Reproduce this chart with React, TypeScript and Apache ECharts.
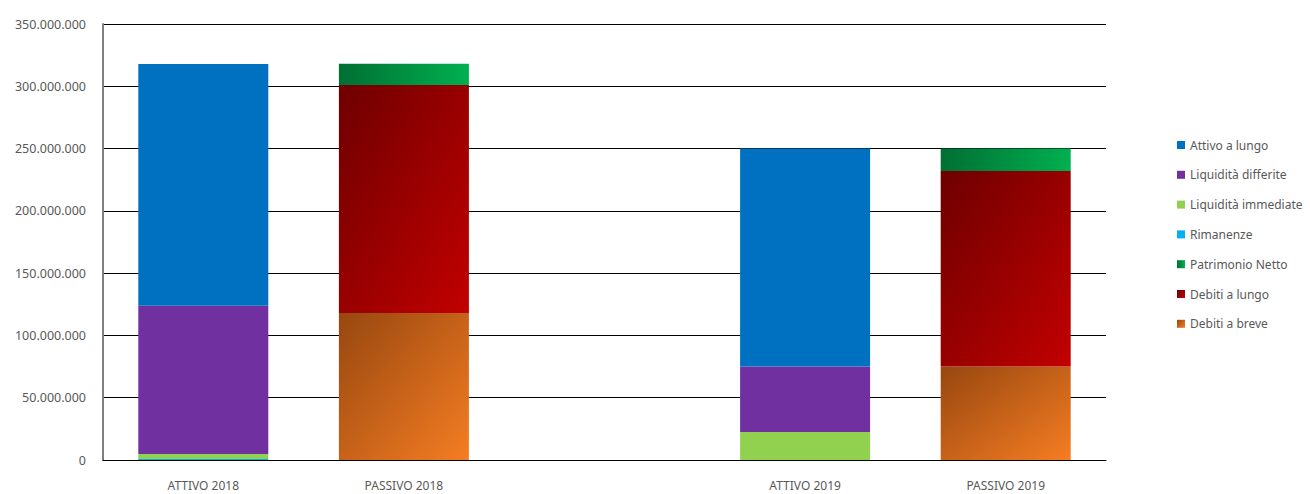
import React, { useEffect, useRef } from "react";
import * as echarts from "echarts";

const categories = ["ATTIVO 2018", "PASSIVO 2018", "", "ATTIVO 2019", "PASSIVO 2019"];
const yTicks = { min: 0, max: 350000000, interval: 50000000 };

// series values (bottom to top of the stack)
const debitiBreve = [null, 118000000, null, null, 75000000];
const debitiLungo = [null, 183000000, null, null, 157000000];
const patrimonioNetto = [null, 17000000, null, null, 18000000];
const rimanenze = [800000, null, null, 0, null];
const liquiditaImmediate = [4000000, null, null, 22500000, null];
const liquiditaDifferite = [119000000, null, null, 52500000, null];
const attivoLungo = [194000000, null, null, 175000000, null];

const legendOrder = [
  "Attivo a lungo",
  "Liquidità differite",
  "Liquidità immediate",
  "Rimanenze",
  "Patrimonio Netto",
  "Debiti a lungo",
  "Debiti a breve",
];

const grad = (a: string, b: string, x2 = 1, y2 = 1) =>
  new echarts.graphic.LinearGradient(0, 0, x2, y2, [
    { offset: 0, color: a },
    { offset: 1, color: b },
  ]);

const fmt = (v: number) => String(Math.round(v)).replace(/\B(?=(\d{3})+(?!\d))/g, ".");

export default function App() {
  const ref = useRef<HTMLDivElement>(null);
  useEffect(() => {
    if (!ref.current) return;
    const chart = echarts.init(ref.current, undefined, { renderer: "svg" });
    const mk = (name: string, data: (number | null)[], color: any) => ({
      name,
      type: "bar",
      stack: "tot",
      data,
      barWidth: 130,
      itemStyle: { color },
      emphasis: { disabled: true },
    });
    chart.setOption({
      animation: false,
      textStyle: { fontFamily: "'Noto Sans', sans-serif" },
      grid: { left: 103, right: 204, top: 24, bottom: 34, containLabel: false },
      legend: {
        orient: "vertical",
        left: 1177,
        top: 139,
        padding: 0,
        itemWidth: 8,
        itemHeight: 8,
        itemGap: 17.8,
        icon: "rect",
        data: legendOrder,
        textStyle: { color: "#595959", fontSize: 12, fontFamily: "'Noto Sans', sans-serif" },
        selectedMode: false,
      },
      xAxis: {
        type: "category",
        data: categories,
        axisLine: { lineStyle: { color: "#000", width: 1 } },
        axisTick: { show: false },
        axisLabel: { color: "#595959", fontSize: 12, margin: 19, interval: 0 },
      },
      yAxis: {
        type: "value",
        min: yTicks.min,
        max: yTicks.max,
        interval: yTicks.interval,
        axisLine: { show: true, lineStyle: { color: "#7f7f7f", width: 2 } },
        axisTick: { show: false },
        splitLine: { lineStyle: { color: "#000", width: 1 } },
        axisLabel: { color: "#595959", fontSize: 12.5, margin: 17, formatter: (v: number) => fmt(v) },
      },
      series: [
        mk("Debiti a breve", debitiBreve, grad("#974710", "#F57D22")),
        mk("Debiti a lungo", debitiLungo, grad("#6E0000", "#C20000")),
        mk("Patrimonio Netto", patrimonioNetto, grad("#006F33", "#00B050", 1, 0)),
        mk("Rimanenze", rimanenze, "#00B0F0"),
        mk("Liquidità immediate", liquiditaImmediate, "#92D050"),
        mk("Liquidità differite", liquiditaDifferite, "#7030A0"),
        mk("Attivo a lungo", attivoLungo, "#0070C0"),
      ],
    });
    return () => chart.dispose();
  }, []);
  return (
    <div
      ref={ref}
      style={{ position: "absolute", left: 0, top: 0, width: 1310, height: 494 }}
    />
  );
}
